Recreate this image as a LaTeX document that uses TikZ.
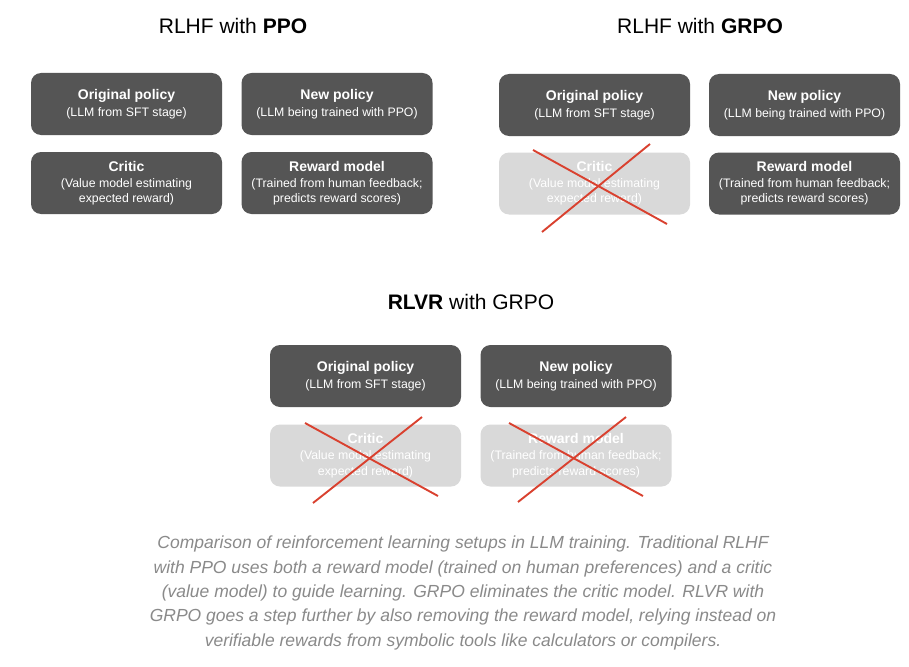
\documentclass[tikz,border=0pt]{standalone}
\usepackage{fontspec}
\setmainfont{Liberation Sans}
\usetikzlibrary{calc}
\definecolor{darkbox}{HTML}{555555}
\definecolor{fadebox}{HTML}{D9D9D9}
\definecolor{crossred}{HTML}{D9412F}
\definecolor{captiongray}{HTML}{8A8A8A}
\tikzset{
  box/.style={rounded corners=10pt, minimum width=191pt, minimum height=62pt, inner sep=0pt, text=white, align=center, font=\fontsize{12.3}{15.2}\selectfont},
  dbox/.style={box, fill=darkbox},
  fbox/.style={box, fill=fadebox},
  cross/.style={draw=crossred, line width=1.9pt},
  ttl/.style={font=\fontsize{21}{25}\selectfont, anchor=center},
}
\newcommand{\hd}[1]{{\fontsize{14}{17}\selectfont\bfseries #1}}
\begin{document}
\begin{tikzpicture}[x=1pt,y=-1pt]
\useasboundingbox[fill=white] (0,0) rectangle (909,666);
% titles
\node[ttl] (t1) at (233,26) {RLHF with \textbf{PPO}};
\node[ttl] (t2) at (700,26) {RLHF with \textbf{GRPO}};
\node[ttl] (t3) at (471,302) {\textbf{RLVR} with GRPO};
% group 1
\node[dbox] (a1) at (126.5,104) {\hd{Original policy}\\[1.5pt](LLM from SFT stage)};
\node[dbox] (a2) at (337,104) {\hd{New policy}\\[1.5pt](LLM being trained with PPO)};
\node[dbox] (a3) at (126.5,183) {\hd{Critic}\\[1pt](Value model estimating\\expected reward)};
\node[dbox] (a4) at (337,183) {\hd{Reward model}\\[1pt](Trained from human feedback;\\predicts reward scores)};
% group 2
\node[dbox] (b1) at (594.5,105) {\hd{Original policy}\\[1.5pt](LLM from SFT stage)};
\node[dbox] (b2) at (804.5,105) {\hd{New policy}\\[1.5pt](LLM being trained with PPO)};
\node[fbox] (b3) at (594.5,183.5) {\hd{Critic}\\[1pt](Value model estimating\\expected reward)};
\node[dbox] (b4) at (804.5,183.5) {\hd{Reward model}\\[1pt](Trained from human feedback;\\predicts reward scores)};
% group 3
\node[dbox] (c1) at (365.5,376) {\hd{Original policy}\\[1.5pt](LLM from SFT stage)};
\node[dbox] (c2) at (576,376) {\hd{New policy}\\[1.5pt](LLM being trained with PPO)};
\node[fbox] (c3) at (365.5,455.5) {\hd{Critic}\\[1pt](Value model estimating\\expected reward)};
\node[fbox] (c4) at (576,455.5) {\hd{Reward model}\\[1pt](Trained from human feedback;\\predicts reward scores)};
% crosses
\draw[cross] ($(b3.center)+(-52.5,48.5)$) -- ($(b3.center)+(55.5,-39.5)$);
\draw[cross] ($(b3.center)+(-61.5,-33.5)$) -- ($(b3.center)+(72.5,40.5)$);
\draw[cross] ($(c3.center)+(-52.5,47.5)$) -- ($(c3.center)+(56.5,-38.5)$);
\draw[cross] ($(c3.center)+(-60.5,-32.5)$) -- ($(c3.center)+(72.5,40.5)$);
\draw[cross] ($(c4.center)+(-58,46.5)$) -- ($(c4.center)+(50,-38.5)$);
\draw[cross] ($(c4.center)+(-67,-32.5)$) -- ($(c4.center)+(67,40.5)$);
% caption
\node[align=center, text=captiongray, font=\fontsize{17.5}{24.4}\selectfont\itshape] (cap) at (463,593) {Comparison of reinforcement learning setups in LLM training. Traditional RLHF\\with PPO uses both a reward model (trained on human preferences) and a critic\\(value model) to guide learning. GRPO eliminates the critic model. RLVR with\\GRPO goes a step further by also removing the reward model, relying instead on\\verifiable rewards from symbolic tools like calculators or compilers.};
\end{tikzpicture}
\end{document}
